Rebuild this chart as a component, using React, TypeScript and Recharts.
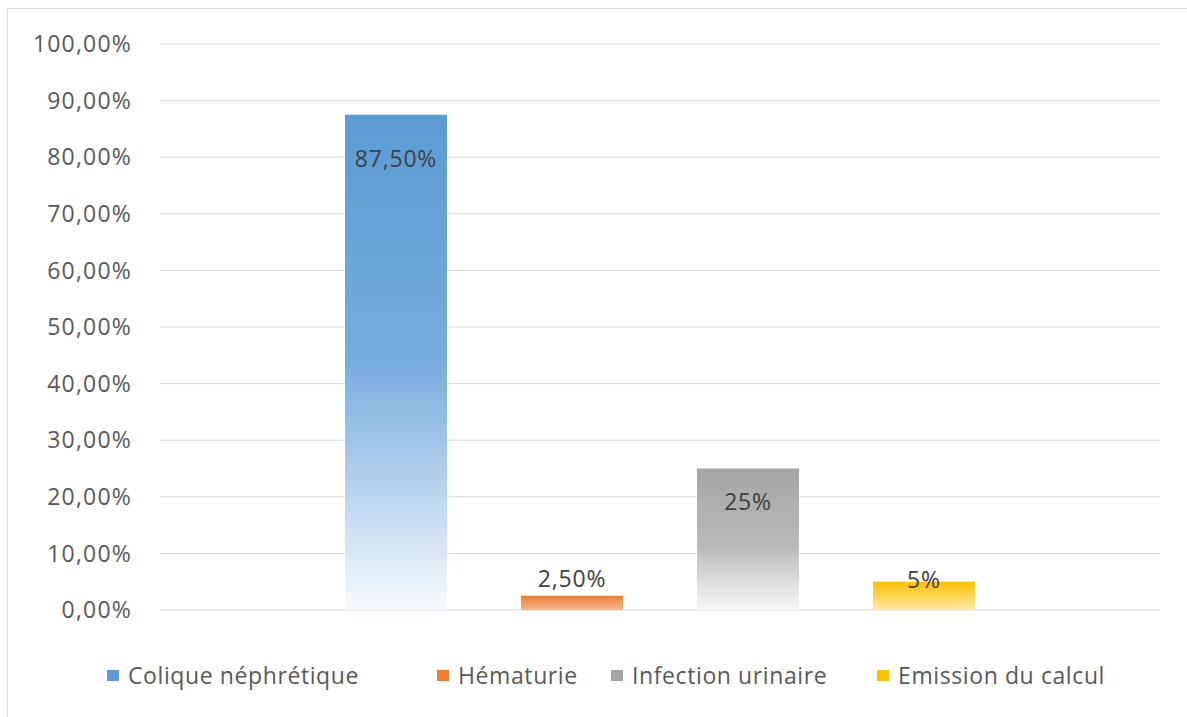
import { BarChart, Bar, XAxis, YAxis, CartesianGrid, Legend, LabelList } from "recharts";

// series names (legend), one bar each
const seriesNames = ["Colique néphrétique", "Hématurie", "Infection urinaire", "Emission du calcul"];
const seriesKeys = ["colique", "hematurie", "infection", "emission"];
const seriesValues = [87.5, 2.5, 25, 5];
const seriesLabels = ["87,50%", "2,50%", "25%", "5%"];
const yTicks = [0, 10, 20, 30, 40, 50, 60, 70, 80, 90, 100];

const COLORS = ["#5b9bd5", "#ed7d31", "#a5a5a5", "#ffc000"];
// label vertical shift from bar top (label centre)
const LABEL_DY = [43, -18, 32, -3];
// legend item left edges (px, inside chart)
const LEGEND_X = [99, 429, 603, 869];

const FONT = "'Open Sans', sans-serif";

const row: Record<string, any> = { name: "" };
seriesKeys.forEach((k, i) => {
  row[k] = seriesValues[i];
});
const data = [row];

const makeLabel = (i: number) => (props: any) => {
  const { x, y, width } = props;
  return (
    <text
      x={Number(x) + Number(width) / 2}
      y={Number(y) + LABEL_DY[i]}
      textAnchor="middle"
      dominantBaseline="central"
      fill="#404040"
      fontSize={23}
      letterSpacing={0.8}
      fontFamily={FONT}
    >
      {seriesLabels[i]}
    </text>
  );
};

const renderLegend = () => (
  <div
    style={{
      position: "relative",
      height: 30,
      fontFamily: FONT,
      fontSize: 23,
      letterSpacing: 0.6,
      color: "#595959",
    }}
  >
    {seriesNames.map((n, i) => (
      <div
        key={n}
        style={{
          position: "absolute",
          left: LEGEND_X[i],
          top: 0,
          height: 30,
          display: "flex",
          alignItems: "center",
          whiteSpace: "nowrap",
        }}
      >
        <span
          style={{
            display: "inline-block",
            width: 12,
            height: 11,
            background: COLORS[i],
            marginRight: 9,
          }}
        />
        <span>{n}</span>
      </div>
    ))}
  </div>
);

export default function App() {
  return (
    <div
      style={{
        position: "absolute",
        left: 7,
        top: 8,
        width: 1180,
        height: 720,
        border: "1px solid #d9d9d9",
        background: "#fff",
      }}
    >
      <BarChart
        width={1178}
        height={708}
        data={data}
        margin={{ top: 35, right: 26, bottom: 107, left: 0 }}
        barCategoryGap="18.5%"
        barGap={74}
      >
        <defs>
          <linearGradient id="g0" x1="0" y1="0" x2="0" y2="1">
            <stop offset="0" stopColor="#5b9bd5" />
            <stop offset="0.5" stopColor="#78acdd" />
            <stop offset="0.8" stopColor="#c3daf1" />
            <stop offset="1" stopColor="#f7fafd" />
          </linearGradient>
          <linearGradient id="g1" x1="0" y1="0" x2="0" y2="1">
            <stop offset="0" stopColor="#ed7d31" />
            <stop offset="1" stopColor="#f5b88e" />
          </linearGradient>
          <linearGradient id="g2" x1="0" y1="0" x2="0" y2="1">
            <stop offset="0" stopColor="#a5a5a5" />
            <stop offset="0.55" stopColor="#bababa" />
            <stop offset="1" stopColor="#f8f8f8" />
          </linearGradient>
          <linearGradient id="g3" x1="0" y1="0" x2="0" y2="1">
            <stop offset="0" stopColor="#ffc000" />
            <stop offset="1" stopColor="#ffe9a6" />
          </linearGradient>
        </defs>
        <CartesianGrid vertical={false} stroke="#d9d9d9" />
        <XAxis dataKey="name" hide />
        <YAxis
          width={152}
          domain={[0, 100]}
          ticks={yTicks}
          interval={0}
          axisLine={false}
          tickLine={false}
          tickSize={0}
          tickMargin={28}
          tickFormatter={(v: number) => `${v},00%`}
          tick={{ fill: "#595959", fontSize: 23, fontFamily: FONT, letterSpacing: 1.2 }}
        />
        <Legend
          verticalAlign="middle"
          align="center"
          content={renderLegend}
          wrapperStyle={{ top: 651, left: 0, width: 1178 }}
        />
        {seriesKeys.map((k, i) => (
          <Bar key={k} dataKey={k} name={seriesNames[i]} fill={`url(#g${i})`} isAnimationActive={false}>
            <LabelList dataKey={k} content={makeLabel(i)} />
          </Bar>
        ))}
      </BarChart>
    </div>
  );
}
